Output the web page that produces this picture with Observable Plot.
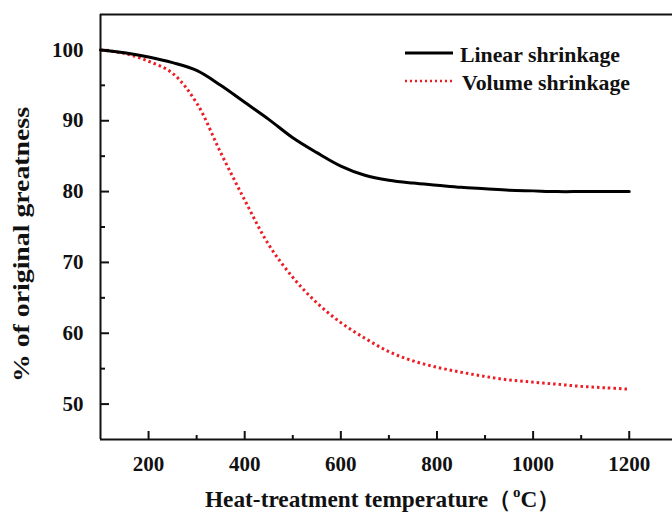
<!DOCTYPE html>
<html>
<head>
<meta charset="utf-8">
<script src="https://cdn.jsdelivr.net/npm/d3@7"></script>
<script src="https://cdn.jsdelivr.net/npm/@observablehq/plot@0.6"></script>
<style>
  html, body { margin: 0; padding: 0; background: #fff; }
  svg { display: block; }
  svg text { font-family: "Liberation Serif", "Times New Roman", "DejaVu Serif", serif !important; font-weight: bold; }
</style>
</head>
<body>
<div id="chart"></div>
<script>
const temps = [100,150,200,250,300,350,400,450,500,550,600,650,700,750,800,850,900,950,1000,1050,1100,1150,1200];
const linearShrink = [100,99.6,99.0,98.2,97.1,95.0,92.6,90.2,87.6,85.5,83.6,82.3,81.6,81.2,80.9,80.6,80.4,80.2,80.1,80.0,80.0,80.0,80.0];
const volumeShrink = [100,99.5,98.4,96.7,92.5,85.5,78.8,72.5,67.9,64.3,61.5,59.3,57.4,56.1,55.2,54.5,53.9,53.4,53.1,52.8,52.5,52.3,52.1];
const xMajor = [200,400,600,800,1000,1200];
const xMinor = [300,500,700,900,1100];
const yMajor = [50,60,70,80,90,100];
const yMinor = [55,65,75,85,95];
const seriesNames = ["Linear shrinkage", "Volume shrinkage"];

const linData = temps.map((t,i) => ({t, v: linearShrink[i]}));
const volData = temps.map((t,i) => ({t, v: volumeShrink[i]}));

const font = "Liberation Serif, Times New Roman, DejaVu Serif, serif";
const W = 672, H = 515, mL = 100, mR = 0, mT = 14, mB = 76;
const plotW = W - mL - mR, plotH = H - mT - mB;

const chart = Plot.plot({
  width: W,
  height: H,
  marginLeft: mL,
  marginRight: mR,
  marginTop: mT,
  marginBottom: mB,
  style: {fontFamily: font, fontSize: "21px", fontWeight: "bold", background: "#fff", color: "#111"},
  x: {domain: [100, 1290]},
  y: {domain: [45, 105]},
  marks: [
    Plot.axisX(xMajor, {tickSize: 0, tickPadding: 17, label: null, tickFormat: d => String(d)}),
    Plot.axisY(yMajor, {tickSize: 0, tickPadding: 17, label: null, tickFormat: d => String(d)}),
    Plot.tickX(xMajor, {x: d => d, stroke: "#111", strokeWidth: 2, insetTop: plotH - 8}),
    Plot.tickX(xMinor, {x: d => d, stroke: "#111", strokeWidth: 2, insetTop: plotH - 4}),
    Plot.tickY(yMajor, {y: d => d, stroke: "#111", strokeWidth: 2, insetRight: plotW - 9}),
    Plot.tickY(yMinor, {y: d => d, stroke: "#111", strokeWidth: 2, insetRight: plotW - 5}),
    Plot.ruleX([100], {stroke: "#111", strokeWidth: 2}),
    Plot.ruleY([45], {stroke: "#111", strokeWidth: 2}),
    Plot.ruleY([105], {stroke: "#111", strokeWidth: 2}),
    Plot.line(volData, {x: "t", y: "v", stroke: "#ee1c24", strokeWidth: 3, strokeLinecap: "butt", strokeDasharray: "2.5 3", curve: "catmull-rom"}),
    Plot.line(linData, {x: "t", y: "v", stroke: "#000", strokeWidth: 3, curve: "catmull-rom"})
  ]
});

document.getElementById("chart").appendChild(chart);

const svg = d3.select(chart);

// Legend
const leg = svg.append("g").attr("font-family", font).attr("font-weight", "bold").attr("font-size", 22)
  .attr("fill", "#111").attr("text-anchor", "start");
leg.append("line").attr("x1", 405).attr("x2", 453).attr("y1", 53).attr("y2", 53).attr("stroke", "#000").attr("stroke-width", 3);
leg.append("text").attr("x", 460).attr("y", 62).attr("textLength", 160).attr("lengthAdjust", "spacingAndGlyphs").text(seriesNames[0]);
leg.append("line").attr("x1", 405).attr("x2", 453).attr("y1", 81).attr("y2", 81).attr("stroke", "#ee1c24").attr("stroke-width", 2.5).attr("stroke-dasharray", "2 3");
leg.append("text").attr("x", 462).attr("y", 90).attr("textLength", 168).attr("lengthAdjust", "spacingAndGlyphs").text(seriesNames[1]);

// Axis titles
const xt = svg.append("text").attr("font-family", font).attr("font-weight", "bold").attr("font-size", 23.3)
  .attr("fill", "#111").attr("text-anchor", "start").attr("x", 205).attr("y", 507);
xt.append("tspan").text("Heat-treatment temperature（");
xt.append("tspan").attr("font-size", 15).attr("dx", 2).attr("dy", -10).text("o");
xt.append("tspan").attr("dy", 10).text("C）");

svg.append("text").attr("font-family", font).attr("font-weight", "bold").attr("font-size", 23)
  .attr("fill", "#111").attr("text-anchor", "start")
  .attr("transform", "translate(29,382) rotate(-90)")
  .attr("textLength", 275).attr("lengthAdjust", "spacingAndGlyphs")
  .text("% of original greatness");
</script>
</body>
</html>
